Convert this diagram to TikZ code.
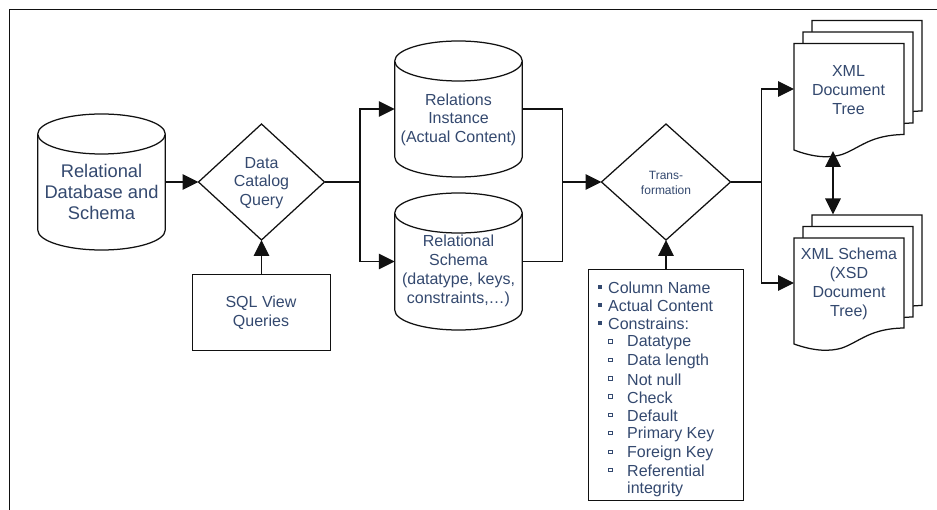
\documentclass[tikz,border=0pt]{standalone}
\usepackage{fontspec}
\setmainfont{Liberation Sans}
\usetikzlibrary{arrows.meta,shapes.geometric,calc}
\definecolor{txt}{HTML}{34496F}
\definecolor{ln}{HTML}{111111}
\tikzset{
  outline/.style={draw=ln,line width=1.25pt,fill=white,line join=miter},
  conn/.style={draw=ln,line width=1.25pt},
  arr/.style={conn,-{Triangle[length=16pt,width=15.5pt]}},
  dblarr/.style={conn,line width=1.6pt,{Triangle[length=16pt,width=15.5pt]}-{Triangle[length=16pt,width=15.5pt]}},
  anchorbox/.style={inner sep=0pt,outer sep=0pt,draw=none,rectangle},
  lab/.style={text=txt,align=center,inner sep=0pt,font=\fontsize{16}{18.8}\selectfont},
  biglab/.style={text=txt,align=center,inner sep=0pt,font=\fontsize{18.3}{21.3}\selectfont},
  smalllab/.style={text=txt,align=center,inner sep=0pt,font=\fontsize{12}{15}\selectfont},
  listlab/.style={text=txt,anchor=west,inner sep=0pt,font=\fontsize{16}{18}\selectfont},
  dia/.style={diamond,draw=ln,line width=1.25pt,fill=white,inner sep=0pt,outer sep=0pt},
  boxed/.style={draw=ln,line width=1.25pt,fill=white,rectangle,inner sep=0pt,outer sep=0pt},
}
% name, cx, top, bottom
\newcommand\cylshape[4]{%
  \node[anchorbox,minimum width=127.5pt,minimum height={#4pt-#3pt}] (#1) at (#2,{(#3+#4)/2}) {};
  \path[outline] ({#2-63.75},{#3+20}) -- ({#2-63.75},{#4-20})
    arc[start angle=180,end angle=360,x radius=63.75pt,y radius=20pt]
    -- ({#2+63.75},{#3+20});
  \path[outline] (#2,{#3+20}) ellipse[x radius=63.75pt,y radius=20pt];
}
% left, top, right-bottom y, left-bottom y
\newcommand\docsheet[4]{%
  \path[outline] (#1,#2) -- ({#1+110},#2) -- ({#1+110},#3)
    .. controls ({#1+76},{#3+0.5}) and ({#1+66},{#3+13.5}) .. ({#1+48},{#3+20})
    .. controls ({#1+36},{#3+23.5}) and ({#1+21},{#3+23.5}) .. (#1,#4) -- cycle;
}
\begin{document}
\begin{tikzpicture}[x=1pt,y=-1pt]
\useasboundingbox (0,0) rectangle (937,510);
\fill[white] (0,0) rectangle (937,510);
% frame
\coordinate (frameA) at (937,9.5);
\coordinate (frameB) at (9.5,9.5);
\coordinate (frameC) at (9.5,510);
\draw[draw=ln,line width=1.25pt] (frameA) -- (frameB) -- (frameC);

% cylinders
\cylshape{c1}{101.5}{114}{250}
\node[biglab] (c1t) at (101.5,192) {Relational\\Database and\\Schema};
\cylshape{c2}{458.5}{41}{177}
\node[lab] (c2t) at (458.5,119.7) {Relations\\Instance\\(Actual Content)};
\cylshape{c3}{458.5}{193}{330}
\node[lab] (c3t) at (458.5,270.7) {Relational\\Schema\\(datatype, keys,\\constraints,…)};

% diamonds
\node[dia,minimum width=126pt,minimum height=116pt] (d1) at (261.5,182) {};
\node[lab] (d1t) at (261.5,183) {Data\\Catalog\\Query};
\node[dia,minimum width=129pt,minimum height=116pt] (d2) at (666,182) {};
\node[smalllab] (d2t) at (666,182.5) {Trans-\\formation};

% boxes
\node[boxed,minimum width=138pt,minimum height=76pt] (sql) at (261.5,312.5) {};
\node[lab] (sqlt) at (261,312.5) {SQL View\\Queries};
\node[boxed,minimum width=155pt,minimum height=231pt] (lst) at (666,385) {};
\foreach \n/\y/\t in {a/287.3/Column Name,b/305.3/Actual Content,c/323.3/Constrains:}{
  \node[fill=txt,inner sep=0pt,minimum size=4pt,rectangle] (bul\n) at (600,\y) {};
  \node[listlab] (item\n) at (608,\y) {\t};
}
\foreach \n/\y/\t in {d/342.5/Datatype,e/361/Data length,f/379.5/Not null,g/397.5/Check,h/416/Default,i/434/Primary Key,j/453/Foreign Key,k/471/Referential}{
  \node[draw=txt,line width=0.7pt,fill=white,inner sep=0pt,minimum size=3.6pt,rectangle] (bul\n) at (610.5,\y-1) {};
  \node[listlab] (item\n) at (627,\y) {\t};
}
\node[listlab] (iteml) at (627,489) {integrity};

% documents
\docsheet{812}{20.5}{111}{127}
\docsheet{803}{32}{123}{139}
\docsheet{794}{43.5}{134.5}{150}
\node[anchorbox,minimum width=110pt,minimum height=91pt] (x1) at (849,89) {};
\node[lab] (x1t) at (848.5,90) {XML\\Document\\Tree};
\docsheet{812}{215}{305.5}{321.5}
\docsheet{803}{226.5}{317}{333}
\docsheet{794}{238}{328}{344}
\node[anchorbox,minimum width=110pt,minimum height=90pt] (x2) at (849,283) {};
\node[lab] (x2t) at (849,284) {XML Schema\\(XSD\\Document\\Tree)};

% connectors
\coordinate (j1) at (360,182);
\coordinate (j2) at (562.7,182);
\coordinate (j3) at (761.5,182);
\coordinate (x1b) at (833,151);
\coordinate (x2a) at (833,214.5);
\draw[arr] (c1.east |- d1.west) -- (d1.west);
\draw[arr] (sql.north) -- (d1.south);
\draw[conn] (d1.east) -- (j1);
\draw[arr] (j1) |- (c2.west);
\draw[arr] (j1) |- (c3.west);
\draw[conn] (c2.east) -| (j2);
\draw[conn] (c3.east) -| (j2);
\draw[arr] (j2) -- (d2.west);
\draw[arr] (lst.north) -- (d2.south);
\draw[conn] (d2.east) -- (j3);
\draw[arr] (j3) |- (x1.west);
\draw[arr] (j3) |- (x2.west);
\draw[dblarr] (x1b) -- (x2a);
\end{tikzpicture}
\end{document}
